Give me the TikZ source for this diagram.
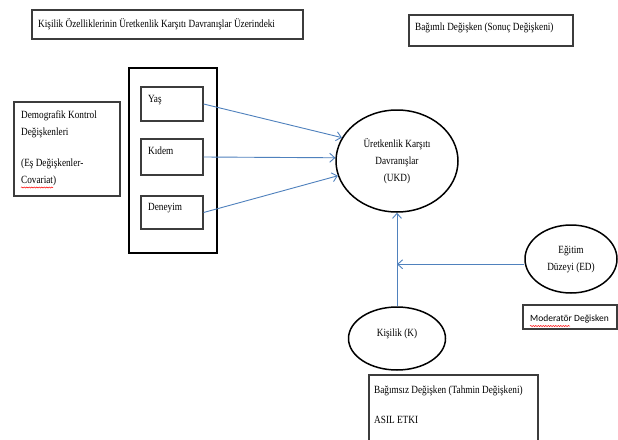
\documentclass[tikz,border=0pt]{standalone}
\usepackage{fontspec}
\setmainfont{Liberation Serif}[FakeStretch=0.84]
\newfontfamily\calfont{Carlito}
\usetikzlibrary{arrows.meta,decorations.pathmorphing,shapes.geometric}
\definecolor{arrowblue}{RGB}{79,129,189}
\definecolor{boxgray}{RGB}{60,60,60}
\begin{document}
\begin{tikzpicture}[x=1pt,y=-1pt,
  box/.style={draw=boxgray, line width=1.2pt, inner sep=0pt},
  txt/.style={inner sep=0pt, font=\fontsize{11}{17}\selectfont, align=left},
  ell/.style={draw=black, line width=1.5pt, ellipse, inner sep=0pt, font=\fontsize{11}{17}\selectfont, align=center},
  arr/.style={draw=arrowblue, line width=0.9pt, -{Straight Barb[length=5pt,width=9pt]}},
  squig/.style={draw=red, line width=0.5pt, decorate, decoration={snake, amplitude=0.6pt, segment length=2.5pt}}]
\fill[white] (0,0) rectangle (618,439);
\useasboundingbox (0,0) rectangle (618,439);

% title
\node[box, minimum width=271pt, minimum height=29pt] (title) at (167.5,24.5) {};
\node[txt, anchor=base west] (titleT) at (38,27.5) {Kişilik Özelliklerinin Üretkenlik Karşıtı Davranışlar Üzerindeki};

% dependent label
\node[box, minimum width=164pt, minimum height=31pt] (dep) at (491,30.5) {};
\node[txt, anchor=base west] (depT) at (415,30.5) {Bağımlı Değişken (Sonuç Değişkeni)};

% group box
\node[draw=black, line width=1.6pt, minimum width=88pt, minimum height=185pt, inner sep=0pt] (group) at (173,160.5) {};
\node[box, minimum width=62pt, minimum height=34pt] (yas) at (172,104) {};
\node[txt, anchor=base west] (yasT) at (148,102.5) {Yaş};
\node[box, minimum width=62pt, minimum height=36pt] (kidem) at (172,157) {};
\node[txt, anchor=base west] (kidemT) at (148,154.5) {Kıdem};
\node[box, minimum width=62pt, minimum height=33pt] (deneyim) at (172,212.5) {};
\node[txt, anchor=base west] (deneyimT) at (148,210.5) {Deneyim};

% demographic label
\node[box, minimum width=106pt, minimum height=94pt] (demo) at (67,149) {};
\node[txt, anchor=north west] (demoT) at (21,111) {Demografik Kontrol\\Değişkenleri\\[14pt](Eş Değişkenler-\\Covariat)};
\draw[squig] (21,187.5) -- (53,187.5);

% ellipses
\node[ell, minimum width=122pt, minimum height=102pt] (ukd) at (397,161) {Üretkenlik Karşıtı\\Davranışlar\\(UKD)};
\node[ell, minimum width=92pt, minimum height=68pt] (egitim) at (571,259) {Eğitim\\Düzeyi (ED)};
\node[ell, minimum width=97pt, minimum height=63pt] (kisilik) at (397,338.5) {};
\node[txt, anchor=base] (kisilikT) at (397,336.5) {Kişilik (K)};

% moderator label
\node[box, minimum width=94pt, minimum height=24pt] (mod) at (570,317) {};
\node[inner sep=0pt, anchor=base west, font=\calfont\fontsize{9.5}{12}\selectfont] (modT) at (530,321) {Moderatör Değisken};
\draw[squig] (530,326) -- (570,326);

% independent label
\node[box, minimum width=169pt, minimum height=66pt] (ind) at (453.5,408) {};
\node[txt, anchor=base west] (indT1) at (374,393.5) {Bağımsız Değişken (Tahmin Değişkeni)};
\node[txt, anchor=base west] (indT2) at (374,423.5) {ASIL ETKI};

% connectors
\draw[arr] (yas.east) -- (ukd.157);
\draw[arr] (kidem.east) -- (ukd.177);
\draw[arr] (deneyim.east) -- (ukd.194);
\draw[arr] (kisilik.north) -- (ukd.south);
\path (kisilik.north) ++(0,-42) coordinate (modpt);
\draw[arr] (egitim.west |- modpt) -- (modpt);
\end{tikzpicture}
\end{document}
